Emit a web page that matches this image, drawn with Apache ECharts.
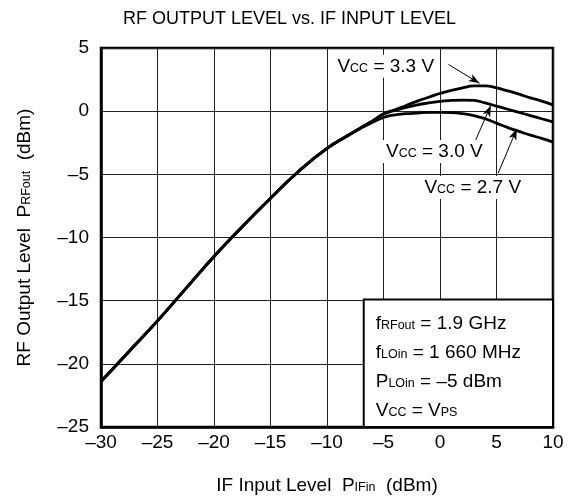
<!DOCTYPE html>
<html>
<head>
<meta charset="utf-8">
<script src="https://cdn.jsdelivr.net/npm/echarts@6/dist/echarts.min.js"></script>
<style>html,body{margin:0;padding:0;background:#fff}#c{width:579px;height:501px}</style>
</head>
<body>
<div id="c"></div>
<script>
// IF input level (dBm)
var ifInput = [-30, -27.5, -25, -22.5, -20, -17.5, -15, -12.5, -10, -8, -7, -6, -5, -4, -3, -2, -1, 0, 1, 2, 3, 4, 5, 6, 7, 8, 9, 10];
// RF output level (dBm)
var vcc33 = [-21.4, -19.0, -16.6, -14.05, -11.5, -9.15, -6.9, -4.75, -2.95, -1.85, -1.3, -0.8, -0.2, 0.1, 0.45, 0.8, 1.1, 1.4, 1.65, 1.85, 2.0, 2.0, 1.85, 1.6, 1.35, 1.05, 0.8, 0.5];
var vcc30 = [-21.4, -19.0, -16.6, -14.05, -11.5, -9.15, -6.9, -4.75, -2.95, -1.85, -1.3, -0.8, -0.25, 0.05, 0.3, 0.5, 0.65, 0.78, 0.85, 0.88, 0.85, 0.65, 0.4, 0.15, -0.1, -0.35, -0.6, -0.85];
var vcc27 = [-21.4, -19.0, -16.6, -14.05, -11.5, -9.15, -6.9, -4.75, -2.95, -1.85, -1.35, -0.9, -0.5, -0.3, -0.2, -0.15, -0.1, -0.1, -0.12, -0.2, -0.35, -0.6, -0.95, -1.3, -1.6, -1.9, -2.15, -2.45];
var seriesNames = ['3.3 V', '3.0 V', '2.7 V'];
var xTicks = [-30, -25, -20, -15, -10, -5, 0, 5, 10];
var yTicks = [-25, -20, -15, -10, -5, 0, 5];

var FONT = "'Liberation Sans', Arial, sans-serif";
function pairs(ys) { return ifInput.map(function (x, i) { return [x, ys[i]]; }); }
function dash(v) { return String(v).replace('-', '\u2013'); }
var rich = {
  m: { fontSize: 19, fontFamily: FONT, color: '#000', verticalAlign: 'bottom' },
  s: { fontSize: 12.5, fontFamily: FONT, color: '#000', verticalAlign: 'bottom', padding: [0, 0, 1, 0] }
};
function vccLabel(v) { return '{m|V}{s|CC}{m| = ' + v + '}'; }
var lineStyle = { color: '#000', width: 2.8 };

var chart = echarts.init(document.getElementById('c'), null, { renderer: 'canvas' });
chart.setOption({
  animation: false,
  backgroundColor: '#fff',
  title: {
    text: 'RF OUTPUT LEVEL vs. IF INPUT LEVEL',
    left: 'center', top: 5,
    textStyle: { fontSize: 18, fontWeight: 'normal', fontFamily: FONT, color: '#000' }
  },
  grid: { left: 101, right: 26, top: 48, bottom: 74, show: true, borderColor: '#000', borderWidth: 2.5, backgroundColor: 'transparent' },
  xAxis: {
    type: 'value', min: xTicks[0], max: xTicks[xTicks.length - 1], interval: 5,
    axisLine: { show: true, onZero: false, lineStyle: { color: '#000', width: 2.5 } },
    axisTick: { show: false },
    splitLine: { show: true, lineStyle: { color: '#222', width: 1 } },
    axisLabel: { fontSize: 19, fontFamily: FONT, color: '#000', margin: 6, formatter: dash },
    name: '{m|IF Input Level  P}{s|IFin}{m|  (dBm)}',
    nameLocation: 'middle', nameGap: 49,
    nameTextStyle: { rich: rich }
  },
  yAxis: {
    type: 'value', min: yTicks[0], max: yTicks[yTicks.length - 1], interval: 5,
    axisLine: { show: true, onZero: false, lineStyle: { color: '#000', width: 2.5 } },
    axisTick: { show: false },
    splitLine: { show: true, lineStyle: { color: '#222', width: 1 } },
    axisLabel: { fontSize: 19, fontFamily: FONT, color: '#000', margin: 12, formatter: dash },
    name: '{m|RF Output Level  P}{s|RFout}{m|  (dBm)}',
    nameLocation: 'middle', nameGap: 67,
    nameTextStyle: { rich: rich }
  },
  series: [
    { name: seriesNames[0], type: 'line', data: pairs(vcc33), smooth: true, showSymbol: false, lineStyle: lineStyle, z: 5 },
    { name: seriesNames[1], type: 'line', data: pairs(vcc30), smooth: true, showSymbol: false, lineStyle: lineStyle, z: 5 },
    {
      name: seriesNames[2], type: 'line', data: pairs(vcc27), smooth: true, showSymbol: false, lineStyle: lineStyle, z: 5,
      markArea: {
        silent: true,
        itemStyle: { color: '#fff', borderColor: '#000', borderWidth: 2 },
        label: {
          show: true, position: 'insideTopLeft', distance: 0,
          padding: [6, 0, 0, 13],
          lineHeight: 29,
          formatter: '{m|f}{s|RFout}{m| = 1.9 GHz}\n{m|f}{s|LOin}{m| = 1 660 MHz}\n{m|P}{s|LOin}{m| = \u20135 dBm}\n{m|V}{s|CC}{m| = V}{s|PS}',
          rich: rich
        },
        data: [[{ coord: [-6.75, -14.9] }, { coord: [10, -25] }]]
      },
      markLine: {
        silent: true,
        symbol: ['none', 'arrow'], symbolSize: [6, 11],
        lineStyle: { color: '#000', width: 1, type: 'solid' },
        label: { show: false },
        data: [
          [{ coord: [0.75, 3.7] }, { coord: [3.5, 2.2] }],
          [{ coord: [3.1, -2.4] }, { coord: [4.5, 0.45] }],
          [{ coord: [5.15, -4.9] }, { coord: [6.8, -1.4] }]
        ]
      },
      markPoint: {
        silent: true,
        symbol: 'circle', symbolSize: 1,
        itemStyle: { color: 'rgba(0,0,0,0)' },
        label: { show: true, position: 'inside', backgroundColor: '#fff', padding: [2, 4, 2, 4], rich: rich },
        data: [
          { coord: [-4.8, 3.55], label: { formatter: vccLabel(seriesNames[0]) } },
          { coord: [-0.5, -3.2], label: { formatter: vccLabel(seriesNames[1]) } },
          { coord: [2.9, -6.05], label: { formatter: vccLabel(seriesNames[2]) } }
        ]
      }
    }
  ]
});
</script>
</body>
</html>
